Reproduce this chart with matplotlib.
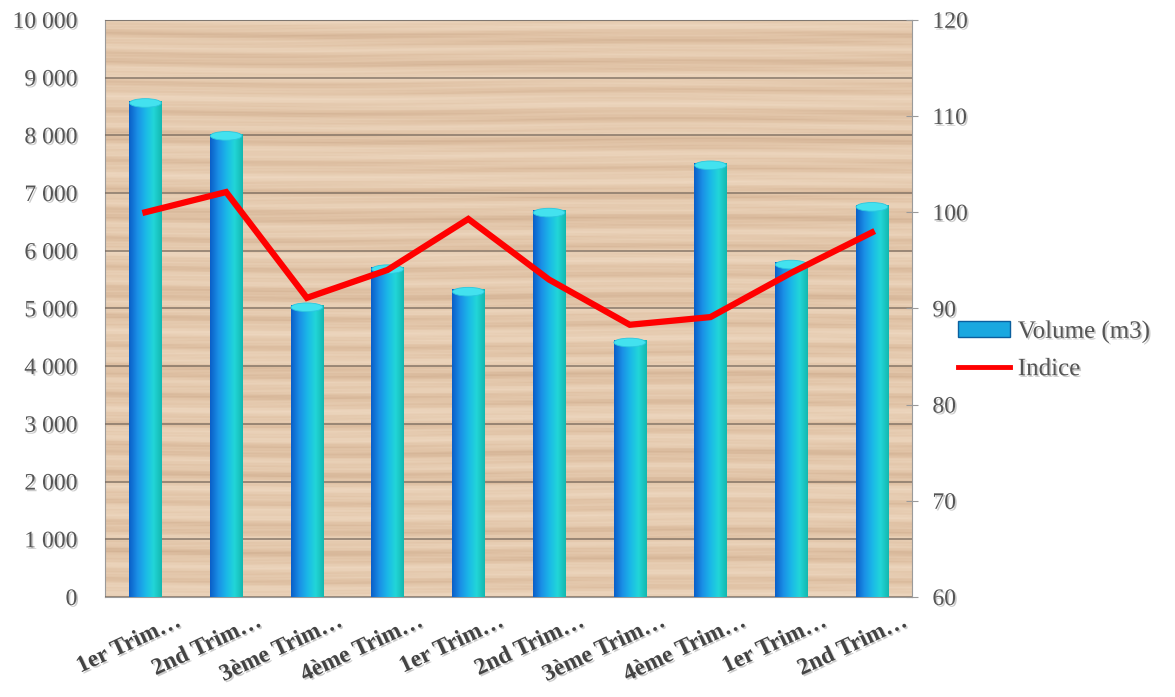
import numpy as np
import matplotlib
matplotlib.use("Agg")
import matplotlib.pyplot as plt
import matplotlib.patheffects as pe
from matplotlib.colors import LinearSegmentedColormap
from matplotlib.patches import Ellipse, Patch
from matplotlib.lines import Line2D
from matplotlib.ticker import FuncFormatter, MultipleLocator
from matplotlib.transforms import ScaledTranslation

# Volumes trimestriels et indice
categories = ["1er Trim…", "2nd Trim…", "3ème Trim…", "4ème Trim…", "1er Trim…",
              "2nd Trim…", "3ème Trim…", "4ème Trim…", "1er Trim…", "2nd Trim…"]
volume = [8600, 8030, 5060, 5720, 5330, 6700, 4450, 7520, 5800, 6800]
indice = [100.0, 102.1, 91.1, 94.0, 99.3, 93.0, 88.3, 89.1, 93.7, 97.9]

plt.rcParams["font.family"] = ["Liberation Serif", "DejaVu Serif"]
shadow = [pe.SimplePatchShadow(offset=(1.2, -1.2), shadow_rgbFace="#999999", alpha=0.5), pe.Normal()]

fig = plt.figure(figsize=(11.75, 6.97), dpi=100)
ax = fig.add_axes([0.0894, 0.1435, 0.687, 0.828])
ax2 = ax.twinx()

n = len(categories)
x = np.arange(n)
ax.set_xlim(-0.5, n - 0.5)
ax.set_ylim(0, 10000)
ax2.set_ylim(60, 120)

# fond façon bois (motif de stries horizontales)
yy, xx = np.mgrid[0:400, 0:600].astype(float)
grain = (0.45 * np.sin(yy * 0.35 + 1.5 * np.sin(xx * 0.004))
         + 0.30 * np.sin(yy * 0.93 + xx * 0.002 + 2.0 * np.sin(xx * 0.011))
         + 0.20 * np.sin(yy * 2.7 + 3.0 * np.sin(xx * 0.017 + yy * 0.05))
         + 0.15 * np.sin(yy * 0.11 + 0.8))
grain = (grain - grain.min()) / (grain.max() - grain.min())
wood = LinearSegmentedColormap.from_list("wood", ["#d2b193", "#e0c2a5", "#e8cfb5", "#eed8c1"])
ax.imshow(grain, cmap=wood, extent=(-0.5, n - 0.5, 0, 10000), aspect="auto",
          origin="lower", zorder=0, interpolation="bilinear")

ax.yaxis.set_major_locator(MultipleLocator(1000))
ax.grid(axis="y", color="#6f6257", linewidth=1.1, alpha=0.8, zorder=1)
ax.set_axisbelow(False)

# barres cylindriques avec dégradé
cyl = LinearSegmentedColormap.from_list("cyl", ["#0a5fc8", "#1b8fe6", "#1ab8e8", "#22d6d8", "#14b8b0"])
grad = np.linspace(0, 1, 64).reshape(1, -1)
bw = 0.4
bars = ax.bar(x, volume, width=bw, color="#1aa8e0", edgecolor="none", zorder=2)
for b, v in zip(bars, volume):
    x0 = b.get_x()
    im = ax.imshow(grad, cmap=cyl, extent=(x0, x0 + bw, 0, v), aspect="auto", zorder=3)
    im.set_clip_path(b)
    ax.add_patch(Ellipse((x0 + bw / 2, v - 40), bw * 0.98, 150, facecolor="#43e2ef",
                         edgecolor="#2bc7de", linewidth=0.6, zorder=4))

ax2.plot(x, indice, color="#ff0000", linewidth=4.5, solid_joinstyle="miter", zorder=5)

# axes
for s in ["top", "left", "bottom"]:
    ax.spines[s].set_color("#9a9a9a")
ax.spines["right"].set_visible(False)
for s in ["top", "left", "bottom"]:
    ax2.spines[s].set_visible(False)
ax2.spines["right"].set_color("#9a9a9a")

ax.yaxis.set_major_formatter(FuncFormatter(lambda v, p: f"{int(v):,}".replace(",", " ")))
ax.tick_params(axis="y", length=0, pad=20, labelsize=17, labelcolor="#555555")
ax2.yaxis.set_major_locator(MultipleLocator(10))
ax2.tick_params(axis="y", direction="inout", length=9, color="#9a9a9a", pad=10,
                labelsize=17, labelcolor="#555555")

ax.set_xticks(x)
ax.set_xticklabels(categories, rotation=25, ha="right", rotation_mode="anchor",
                   fontsize=17, fontweight="bold", color="#444444")
ax.tick_params(axis="x", length=0, pad=10)
offset = ScaledTranslation(0.3, 0, fig.dpi_scale_trans)
for lbl in ax.get_xticklabels():
    lbl.set_transform(lbl.get_transform() + offset)

for lbl in ax.get_yticklabels() + ax2.get_yticklabels() + ax.get_xticklabels():
    lbl.set_path_effects(shadow)

handles = [Patch(facecolor="#1aa8e0", edgecolor="#0b5f9e", linewidth=1),
           Line2D([0], [0], color="#ff0000", linewidth=3.5)]
leg = fig.legend(handles, ["Volume (m3)", "Indice"], loc="upper left",
                 bbox_to_anchor=(0.796, 0.573), frameon=False, fontsize=18,
                 handlelength=2.1, handleheight=0.6, handletextpad=0.3, labelspacing=0.6,
                 labelcolor="#555555")
for t in leg.get_texts():
    t.set_path_effects(shadow)

fig.savefig("out.png", dpi=100, facecolor="white")
